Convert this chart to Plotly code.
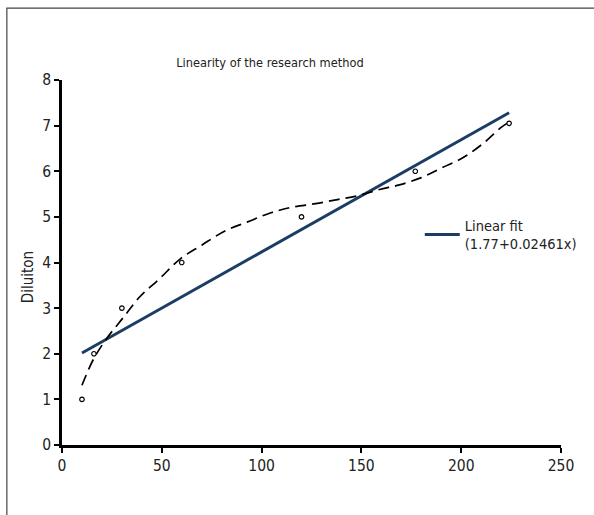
import plotly.graph_objects as go

# Measured data points
conc = [10, 16, 30, 60, 120, 177, 224]
dilution = [1, 2, 3, 4, 5, 6, 7.05]

# Linear fit (1.77 + 0.02461x) endpoints
fit_x = [10, 224]
fit_y = [2.016, 7.283]

# Polynomial trend curve
curve_x = [10, 16, 23, 31, 39, 49, 59, 70, 82, 93, 104, 115, 127, 138, 148,
           159, 169, 180, 190, 201, 211, 220, 224]
curve_y = [1.31, 1.9, 2.37, 2.81, 3.25, 3.65, 4.07, 4.38, 4.70, 4.89, 5.08,
           5.21, 5.29, 5.38, 5.46, 5.60, 5.70, 5.86, 6.07, 6.30, 6.61, 6.96, 7.08]

x_ticks = [0, 50, 100, 150, 200, 250]
y_ticks = [0, 1, 2, 3, 4, 5, 6, 7, 8]

FONT = "DejaVu Sans Condensed, DejaVu Sans, sans-serif"
TXT = "#222"

fig = go.Figure()
fig.add_trace(go.Scatter(
    x=fit_x, y=fit_y, mode="lines",
    line=dict(color="#1c3d63", width=3),
    name="Linear fit<br>(1.77+0.02461x)", showlegend=True))
fig.add_trace(go.Scatter(
    x=curve_x, y=curve_y, mode="lines", line_shape="spline",
    line=dict(color="black", width=1.7, dash="11px,6px"),
    showlegend=False))
fig.add_trace(go.Scatter(
    x=conc, y=dilution, mode="markers",
    marker=dict(symbol="circle-open", size=4.5, color="black", line=dict(width=1.2)),
    showlegend=False))

fig.update_layout(
    width=594, height=515,
    margin=dict(l=62, r=16, t=80, b=70),
    paper_bgcolor="white", plot_bgcolor="white",
    font=dict(family=FONT, size=15, color=TXT),
    title=dict(text="Linearity of the research method", xref="paper", x=(277 - 62) / 516,
               xanchor="center", yref="container", y=1 - 63 / 515, yanchor="middle",
               font=dict(size=12.7, color=TXT)),
    xaxis=dict(range=[0, 250], tickvals=x_ticks, showgrid=False, zeroline=False,
               showline=True, linecolor="black", linewidth=2.5, automargin=False,
               ticks="outside", ticklen=5, tickcolor="black", tickwidth=1.5,
               tickfont=dict(size=15.5)),
    yaxis=dict(range=[0, 8], tickvals=y_ticks, showgrid=False, zeroline=False,
               showline=True, linecolor="black", linewidth=2.5, automargin=False,
               ticks="outside", ticklen=5, tickcolor="black", tickwidth=1.5,
               tickfont=dict(size=15.5)),
    legend=dict(x=0.717, y=0.6465, xanchor="left", yanchor="top",
                bgcolor="rgba(0,0,0,0)", font=dict(size=14.5, color=TXT),
                itemwidth=35, tracegroupgap=0),
    annotations=[dict(text="Diluiton", textangle=-90, xref="paper", yref="paper",
                      x=(27 - 62) / 516, y=(445 - 277) / 365,
                      xanchor="center", yanchor="middle", showarrow=False,
                      font=dict(size=15, color=TXT))],
    shapes=[dict(type="rect", xref="paper", yref="paper",
                 x0=-0.1105, x1=1.5, y0=-0.6, y1=1.197,
                 line=dict(color="#444", width=1.2), fillcolor="rgba(0,0,0,0)")],
)

fig.write_html("out.html", config={"displayModeBar": False},
               post_script="document.body.style.margin='0';")
